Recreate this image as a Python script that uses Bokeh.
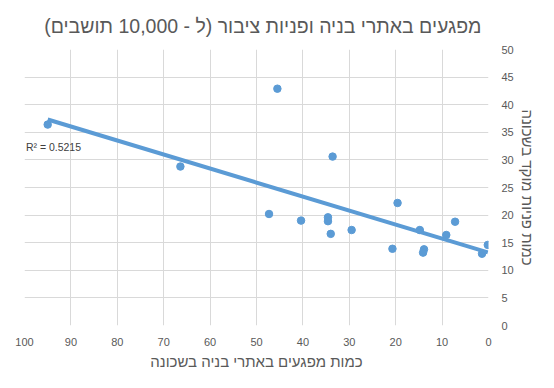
from bokeh.plotting import figure
from bokeh.models import Range1d, FixedTicker, Title, Label
from bokeh.embed import file_html
from bokeh.resources import INLINE
import numpy as np

# ---- data ----
hazards = [95.0, 66.4, 45.5, 33.6, 47.3, 40.4, 34.6, 34.6, 34.0, 29.5,
           19.6, 20.7, 14.8, 13.9, 14.1, 7.2, 9.1, 1.4, 0.15]
calls = [36.4, 28.8, 42.9, 30.6, 20.2, 19.0, 19.6, 18.9, 16.6, 17.3,
         22.2, 13.9, 17.3, 13.8, 13.2, 18.8, 16.4, 13.0, 14.6]
x_ticks = list(range(0, 101, 10))
y_ticks = list(range(0, 51, 5))
title_text = "מפגעים באתרי בניה ופניות ציבור (ל - 10,000 תושבים)\u200F"
x_title = "כמות מפגעים באתרי בניה בשכונה"
y_title = "כמות פניות מוקד בשכונה"
r2_text = "R² = 0.5215"

BLUE = "#5b9bd5"
GRAY = "#595959"
FONT = "Liberation Sans"

p = figure(width=538, height=372,
           x_range=Range1d(100, 0), y_range=Range1d(0, 50),
           y_axis_location="right",
           output_backend="svg", toolbar_location=None,
           min_border_left=24, min_border_right=47,
           min_border_top=49, min_border_bottom=47)
p.outline_line_color = None
p.background_fill_color = "white"
p.border_fill_color = "white"

p.add_layout(Title(text=title_text, align="right", offset=7,
                   text_font_size="19.5px", text_font=FONT,
                   text_font_style="normal", text_color=GRAY,
                   standoff=25), "above")

for ax, ticks in ((p.xaxis, x_ticks), (p.yaxis, y_ticks)):
    ax.ticker = FixedTicker(ticks=ticks)
    ax.axis_line_color = None
    ax.major_tick_line_color = None
    ax.minor_tick_line_color = None
    ax.major_tick_out = 0
    ax.major_tick_in = 0
    ax.major_label_text_font = FONT
    ax.major_label_text_font_size = "11px"
    ax.major_label_text_color = GRAY
    ax.axis_label_text_font = FONT
    ax.axis_label_text_font_size = "15px"
    ax.axis_label_text_font_style = "normal"
    ax.axis_label_text_color = GRAY

p.xaxis.axis_label = x_title
p.yaxis.axis_label = y_title
p.xaxis.major_label_standoff = 12
p.yaxis.major_label_standoff = 13
p.xaxis.axis_label_standoff = 4
p.yaxis.axis_label_standoff = 2

p.xgrid.ticker = FixedTicker(ticks=x_ticks)
p.ygrid.ticker = FixedTicker(ticks=y_ticks)
for g in (p.xgrid, p.ygrid):
    g.grid_line_color = "#d9d9d9"
    g.grid_line_width = 1

p.scatter(hazards, calls, size=7.5, color=BLUE, line_color=BLUE)

# linear trendline fitted to the data
slope, intercept = np.polyfit(hazards, calls, 1)
tx = [min(hazards), max(hazards)]
ty = [slope * v + intercept for v in tx]
p.line(tx, ty, line_width=4, color=BLUE)

p.add_layout(Label(x=99.7, y=32.4, text=r2_text, text_align="left",
                   text_baseline="middle", text_font=FONT,
                   text_font_size="10.5px", text_color="#404040"))

open("out.html", "w").write(file_html(p, INLINE))
